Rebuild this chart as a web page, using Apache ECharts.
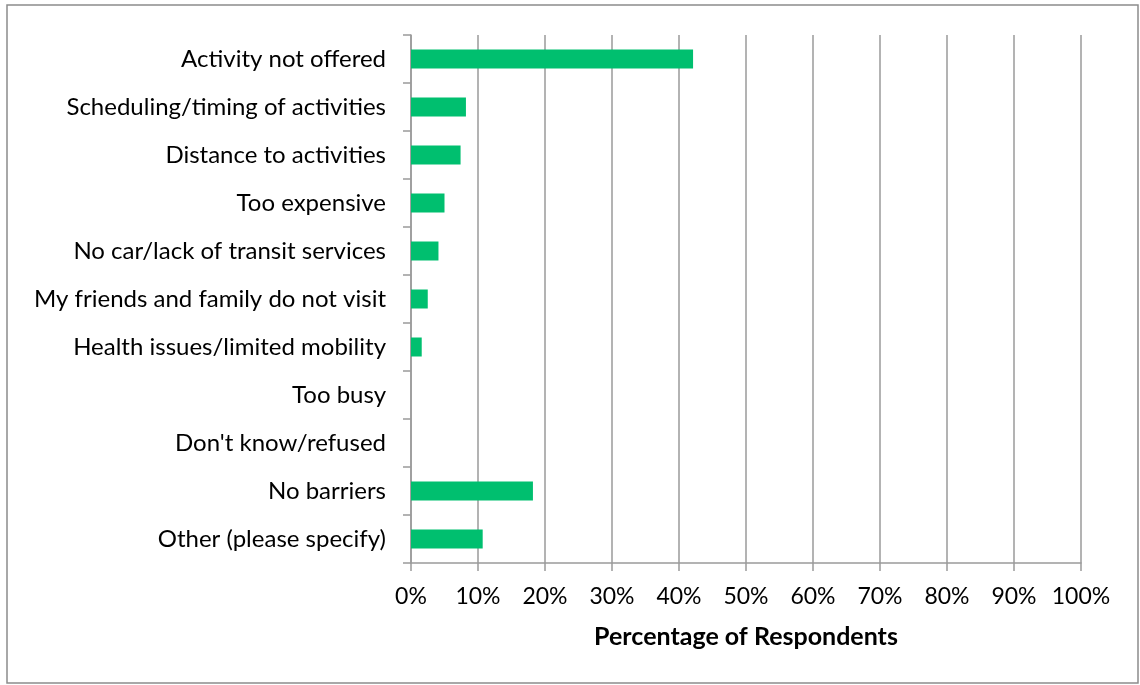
<!DOCTYPE html>
<html>
<head>
<meta charset="utf-8">
<script src="https://cdn.jsdelivr.net/npm/echarts@6/dist/echarts.min.js"></script>
<style>
  html, body { margin: 0; padding: 0; background: #ffffff; }
  #chart { width: 1140px; height: 685px; }
</style>
</head>
<body>
<div id="chart"></div>
<script>
// Barriers to participation, top to bottom
const categories = [
  'Activity not offered',
  'Scheduling/timing of activities',
  'Distance to activities',
  'Too expensive',
  'No car/lack of transit services',
  'My friends and family do not visit',
  'Health issues/limited mobility',
  'Too busy',
  "Don't know/refused",
  'No barriers',
  'Other (please specify)'
];

// Share of respondents, percent
const percentValues = [42.1, 8.2, 7.4, 5.0, 4.1, 2.5, 1.6, 0, 0, 18.2, 10.7];

const axisTitle = 'Percentage of Respondents';

const FONT = 'Lato, "Open Sans", sans-serif';
const GRID_GRAY = '#9a9a9a';

const chart = echarts.init(document.getElementById('chart'), null, { renderer: 'canvas' });

chart.setOption({
  backgroundColor: '#ffffff',
  animation: false,
  graphic: [{
    type: 'rect',
    shape: { x: 7, y: 5, width: 1131, height: 678 },
    style: { fill: 'none', stroke: '#8c8c8c', lineWidth: 1.5 },
    silent: true
  }],
  grid: { left: 411, right: 59, top: 35, bottom: 122, containLabel: false },
  xAxis: {
    type: 'value',
    min: 0,
    max: 100,
    interval: 10,
    name: axisTitle,
    nameLocation: 'middle',
    nameGap: 61,
    nameTextStyle: { fontFamily: FONT, fontSize: 25, fontWeight: 'bold', color: '#000' },
    axisLine: { show: true, lineStyle: { color: GRID_GRAY, width: 1.5 } },
    axisTick: { show: true, length: 8, lineStyle: { color: GRID_GRAY, width: 1.5 } },
    axisLabel: { formatter: '{value}%', fontFamily: FONT, fontSize: 23, color: '#000', margin: 22 },
    splitLine: { show: true, lineStyle: { color: GRID_GRAY, width: 1.5 } }
  },
  yAxis: {
    type: 'category',
    inverse: true,
    data: categories,
    axisLine: { show: true, lineStyle: { color: GRID_GRAY, width: 1.5 } },
    axisTick: { show: true, length: 8, alignWithLabel: false, lineStyle: { color: GRID_GRAY, width: 1.5 } },
    axisLabel: { fontFamily: FONT, fontSize: 24, color: '#000', margin: 25 },
    splitLine: { show: false }
  },
  series: [{
    type: 'bar',
    data: percentValues,
    barWidth: 19,
    itemStyle: { color: '#00bf6f' }
  }]
});
</script>
</body>
</html>
